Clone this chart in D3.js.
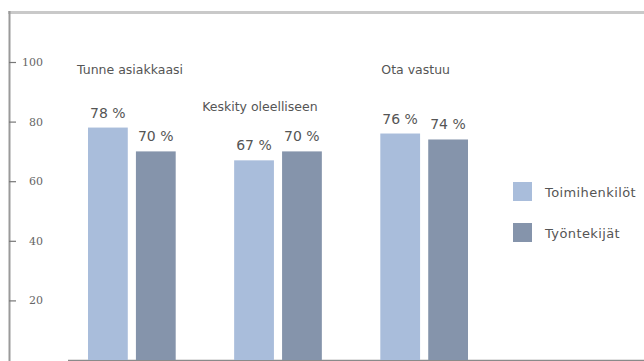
<!DOCTYPE html>
<html>
<head>
<meta charset="utf-8">
<script src="https://cdn.jsdelivr.net/npm/d3@7"></script>
<style>
  html, body { margin: 0; padding: 0; background: #fff; }
  svg { display: block; font-family: "DejaVu Sans", Verdana, sans-serif; }
</style>
</head>
<body>
<svg id="chart" width="644" height="361"></svg>
<script>
// Survey results: share of respondents per value, by personnel group
const categories = ["Tunne asiakkaasi", "Keskity oleelliseen", "Ota vastuu"];
const seriesNames = ["Toimihenkilöt", "Työntekijät"];
const toimihenkilot = [78, 67, 76];
const tyontekijat = [70, 70, 74];
const tickValues = [20, 40, 60, 80, 100];
const colors = ["#a9bddb", "#8594ab"];

const svg = d3.select("#chart");
const W = 644, H = 361;

const y = d3.scaleLinear().domain([0, 100]).range([360, 62]);

const x0 = d3.scaleBand().domain(categories).range([88, 468])
  .paddingInner(0.4).paddingOuter(0);
const x1 = d3.scaleBand().domain(seriesNames).range([0, x0.bandwidth()])
  .paddingInner(0.17).paddingOuter(0);
const color = d3.scaleOrdinal().domain(seriesNames).range(colors);

const rows = categories.map((c, i) => ({
  category: c,
  values: [
    { series: seriesNames[0], value: toimihenkilot[i] },
    { series: seriesNames[1], value: tyontekijat[i] }
  ]
}));

// frame: top band and left axis line
svg.append("rect").attr("x", 8).attr("y", 11).attr("width", W - 8).attr("height", 3)
  .attr("fill", "#c9c9c9");
svg.append("line").attr("x1", 9.5).attr("x2", 9.5).attr("y1", 11).attr("y2", H)
  .attr("stroke", "#9a9a9a").attr("stroke-width", 2);

// y axis ticks pointing into the plot, labels to their right
const axis = svg.append("g").attr("transform", "translate(9,0)")
  .call(d3.axisLeft(y).tickValues(tickValues).tickSize(-7).tickSizeOuter(0));
axis.select(".domain").remove();
axis.selectAll(".tick line").attr("stroke", "#777").attr("stroke-width", 1.2);
axis.selectAll(".tick text")
  .attr("x", 34).attr("text-anchor", "end")
  .attr("fill", "#666").attr("font-size", 11)
  .attr("font-family", "'DejaVu Serif', serif");

// baseline
svg.append("line").attr("x1", 68).attr("x2", W).attr("y1", 360.5).attr("y2", 360.5)
  .attr("stroke", "#8a8a8a").attr("stroke-width", 1.5);

// bars
const groups = svg.selectAll("g.cat").data(rows).join("g")
  .attr("class", "cat")
  .attr("transform", d => `translate(${x0(d.category)},0)`);

groups.selectAll("rect").data(d => d.values).join("rect")
  .attr("x", d => x1(d.series))
  .attr("y", d => y(d.value))
  .attr("width", x1.bandwidth())
  .attr("height", d => y(0) - y(d.value))
  .attr("fill", d => color(d.series));

// value labels
groups.selectAll("text.val").data(d => d.values).join("text")
  .attr("class", "val")
  .attr("x", d => x1(d.series) + 2)
  .attr("y", d => y(d.value) - 10)
  .attr("font-size", 14)
  .attr("fill", "#555")
  .text(d => `${d.value} %`);

// category titles above each group (the middle one sits lower, above its bars)
const titleDx = [-11, -32, 1];
groups.append("text")
  .attr("class", "title")
  .attr("x", (d, i) => titleDx[i])
  .attr("y", (d, i) => {
    const top = d3.max(d.values, v => y(v.value));
    return i === 1 ? top - 49 : y(100) + 12;
  })
  .attr("font-size", 12.5)
  .attr("fill", "#555")
  .text(d => d.category);

// legend
const legend = svg.append("g").attr("transform", "translate(513,182)");
const items = legend.selectAll("g").data(seriesNames).join("g")
  .attr("transform", (d, i) => `translate(0,${i * 41})`);
items.append("rect").attr("width", 19).attr("height", 19).attr("fill", d => color(d));
items.append("text").attr("x", 32).attr("y", 15).attr("font-size", 13)
  .attr("letter-spacing", 0.4)
  .attr("fill", "#555").text(d => d);
</script>
</body>
</html>
